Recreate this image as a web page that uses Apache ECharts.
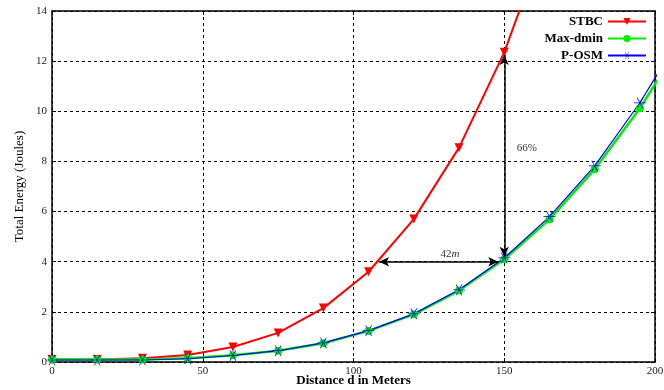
<!DOCTYPE html>
<html lang="en">
<head>
  <meta charset="UTF-8">
  <title>Total Energy vs Distance</title>
  <script src="https://cdn.jsdelivr.net/npm/echarts@6/dist/echarts.min.js"></script>
  <style>
    html, body { margin: 0; padding: 0; background: #fff; }
    #main { width: 664px; height: 390px; }
  </style>
</head>
<body>
  <div id="main"></div>
<script type="text/javascript">
  // distance (m) and energy (J)
  var distance = [0, 15, 30, 45, 60, 75, 90, 105, 120, 135, 150, 165, 180, 195, 210];
  var stbc    = [0.1, 0.1, 0.15, 0.28, 0.6, 1.16, 2.15, 3.6, 5.7, 8.55, 12.35, 17.3];
  var maxDmin = [0.1, 0.1, 0.1, 0.15, 0.27, 0.45, 0.75, 1.24, 1.9, 2.85, 4.1, 5.69, 7.69, 10.12, 13.0];
  var posm    = [0.08, 0.08, 0.08, 0.13, 0.26, 0.45, 0.76, 1.25, 1.92, 2.88, 4.15, 5.8, 7.82, 10.34, 13.3];
  var xTicks = [0, 50, 100, 150, 200];
  var yTicks = [0, 2, 4, 6, 8, 10, 12, 14];

  var font = 'Liberation Serif';
  var asterisk = 'path://M0 9.4L20 9.4L20 10.6L0 10.6Z' +
    'M4.48 1.64L5.52 1.04L15.52 18.36L14.48 18.96Z' +
    'M15.52 1.64L14.48 1.04L4.48 18.36L5.52 18.96Z';

  function pairs(ys) {
    return ys.map(function (y, i) { return [distance[i], y]; });
  }

  var chart = echarts.init(document.getElementById('main'));

  var xBase = {
    type: 'value', min: 0, max: 200, interval: 50,
    axisLine: { show: true, onZero: false, lineStyle: { color: '#000', width: 1.5 } },
    axisTick: { show: true, inside: true, length: 4, lineStyle: { color: '#000' } },
    splitLine: { show: false }
  };
  var yBase = {
    type: 'value', min: 0, max: 14, interval: 2,
    axisLine: { show: true, onZero: false, lineStyle: { color: '#000', width: 1.5 } },
    axisTick: { show: true, inside: true, length: 4, lineStyle: { color: '#000' } },
    splitLine: { show: false }
  };

  chart.setOption({
    animation: false,
    backgroundColor: '#fff',
    grid: { left: 52, right: 9, top: 11, bottom: 28, outerBoundsMode: 'none', containLabel: false },
    legend: {
      right: 12, top: 10, orient: 'vertical', align: 'right',
      itemGap: 4, itemWidth: 38, itemHeight: 9,
      textStyle: { fontFamily: font, fontWeight: 'bold', fontSize: 13, color: '#000' },
      data: ['STBC', 'Max-dmin', 'P-OSM']
    },
    xAxis: [
      Object.assign({}, xBase, {
        position: 'bottom',
        name: 'Distance d in Meters', nameLocation: 'middle', nameGap: 12, nameMoveOverlap: false,
        nameTextStyle: { fontFamily: font, fontWeight: 'bold', fontSize: 13, color: '#000' },
        axisLabel: {
          fontFamily: font, fontSize: 11, color: '#222', margin: 4,
          formatter: function (v) { return xTicks.indexOf(v) >= 0 ? v : ''; }
        },
        splitLine: { show: true, lineStyle: { color: '#000', type: [3, 3], width: 1 } }
      }),
      Object.assign({}, xBase, { position: 'top', axisLabel: { show: false } })
    ],
    yAxis: [
      Object.assign({}, yBase, {
        position: 'left',
        name: 'Total Energy (Joules)', nameLocation: 'middle', nameGap: 26, nameMoveOverlap: false,
        nameTextStyle: { fontFamily: font, fontSize: 13, color: '#000' },
        axisLabel: {
          fontFamily: font, fontSize: 11, color: '#222', margin: 5,
          formatter: function (v) { return yTicks.indexOf(v) >= 0 ? v : ''; }
        },
        splitLine: { show: true, lineStyle: { color: '#000', type: [3, 3], width: 1 } }
      }),
      Object.assign({}, yBase, { position: 'right', axisLabel: { show: false } })
    ],
    series: [
      {
        name: 'STBC', type: 'line', data: pairs(stbc),
        symbol: 'triangle', symbolRotate: 180, symbolSize: 9,
        itemStyle: { color: '#ff0000' },
        lineStyle: { color: '#ff0000', width: 2 },
        markLine: {
          silent: true, symbol: ['arrow', 'arrow'], symbolSize: [7, 10],
          label: { show: false },
          lineStyle: { color: '#000', type: 'solid', width: 1.5 },
          data: [
            [{ coord: [150, 4.2] }, { coord: [150, 12.25] }],
            [{ coord: [108.5, 4.0] }, { coord: [148, 4.0] }]
          ]
        },
        markPoint: {
          silent: true, symbol: 'circle', symbolSize: 0,
          label: {
            show: true, fontFamily: font, fontSize: 11, color: '#333',
            rich: { it: { fontFamily: font, fontStyle: 'italic', fontSize: 11, color: '#333' } }
          },
          data: [
            { coord: [132, 4.3], label: { formatter: '42{it|m}' } },
            { coord: [157.5, 8.55], label: { formatter: '66%' } }
          ]
        }
      },
      {
        name: 'Max-dmin', type: 'line', data: pairs(maxDmin),
        symbol: 'circle', symbolSize: 8,
        itemStyle: { color: '#00ee00' },
        lineStyle: { color: '#00ee00', width: 2.5 }
      },
      {
        name: 'P-OSM', type: 'line', data: pairs(posm),
        symbol: asterisk, symbolSize: [12, 11],
        itemStyle: { color: '#0000ff' },
        lineStyle: { color: '#0000ff', width: 1.2 }
      }
    ]
  });
</script>
</body>
</html>
